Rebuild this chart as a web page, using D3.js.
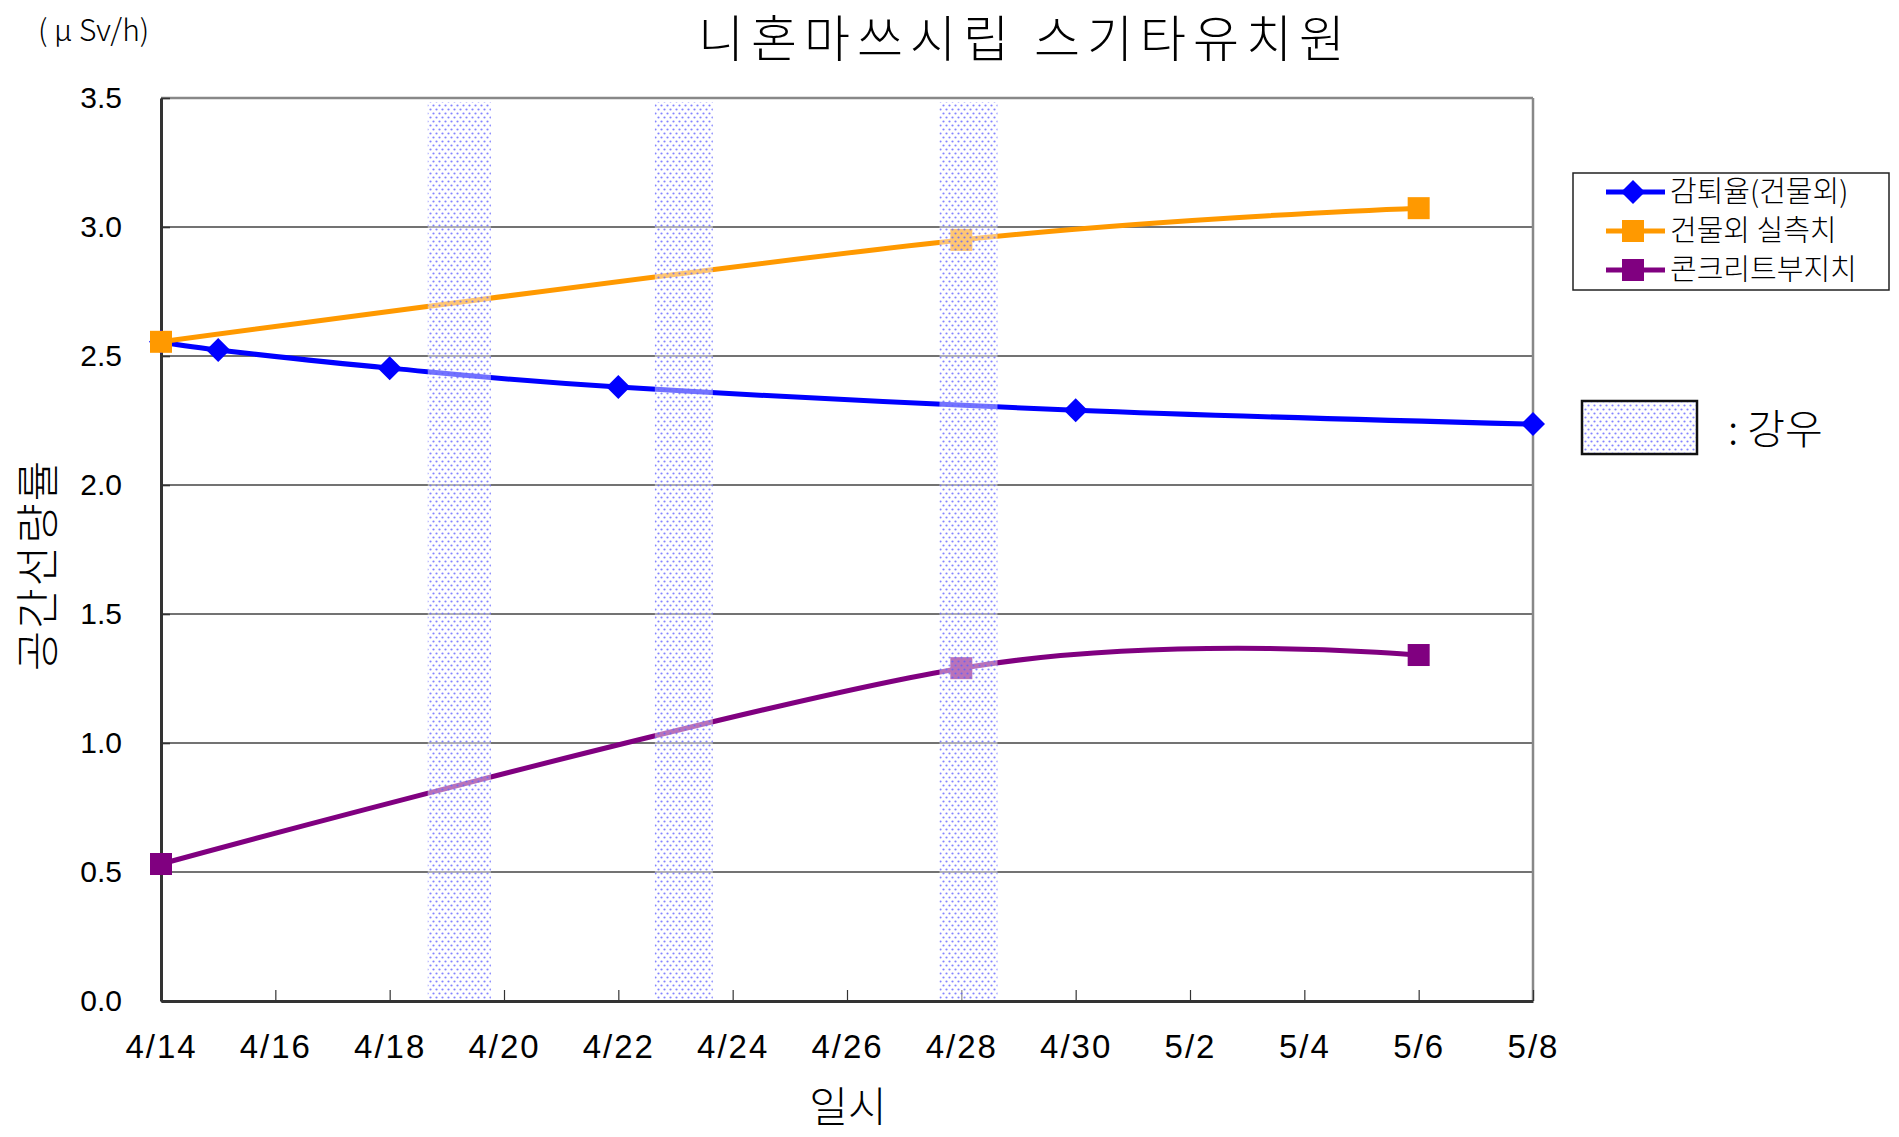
<!DOCTYPE html>
<html>
<head>
<meta charset="utf-8">
<title>니혼마쓰시립 스기타유치원</title>
<script src="https://d3js.org/d3.v7.min.js"></script>
<style>
  body { margin: 0; background: #fff; }
  .kr { font-family: 'Noto Sans CJK KR', sans-serif; font-weight: 300; }
</style>
</head>
<body>
<svg id="chart" width="1899" height="1137"></svg>
<script>
// data
var seriesNames = ["감퇴율(건물외)", "건물외 실측치", "콘크리트부지치"];
var seriesColors = ["#0000ff", "#ff9900", "#800080"];

var decayDates = ["2011-04-14", "2011-04-15", "2011-04-18", "2011-04-22", "2011-04-30", "2011-05-08"];
var decayValues = [2.555, 2.523, 2.453, 2.38, 2.29, 2.236];

var outsideDates = ["2011-04-14", "2011-04-28", "2011-05-06"];
var outsideValues = [2.555, 2.95, 3.073];

var concreteDates = ["2011-04-14", "2011-04-28", "2011-05-06"];
var concreteValues = [0.531, 1.29, 1.341];

// rain periods
var rainStart = ["2011-04-18 16:00", "2011-04-22 15:20", "2011-04-27 14:50"];
var rainEnd = ["2011-04-19 18:30", "2011-04-23 15:40", "2011-04-28 15:10"];

var yTicks = [0, 0.5, 1.0, 1.5, 2.0, 2.5, 3.0, 3.5];

var svg = d3.select("#chart");
var plotL = 161, plotR = 1533, plotT = 98, plotB = 1001;

var parseDay = d3.timeParse("%Y-%m-%d");
var parseTime = d3.timeParse("%Y-%m-%d %H:%M");
var t0 = parseDay("2011-04-14"), t1 = parseDay("2011-05-08");

var x = d3.scaleTime().domain([t0, t1]).range([plotL, plotR]);
var y = d3.scaleLinear().domain([0, 3.5]).range([plotB, plotT]);

// pattern for rain bands
var defs = svg.append("defs");
var pat = defs.append("pattern")
  .attr("id", "rain")
  .attr("patternUnits", "userSpaceOnUse")
  .attr("width", 6).attr("height", 8);
pat.append("circle").attr("cx", 1.5).attr("cy", 1.5).attr("r", 1.1).attr("fill", "#5a5aff").attr("fill-opacity", 0.75);
pat.append("circle").attr("cx", 4.5).attr("cy", 5.5).attr("r", 1.1).attr("fill", "#5a5aff").attr("fill-opacity", 0.75);

// gridlines
svg.append("g").selectAll("line")
  .data(yTicks.filter(d => d > 0 && d < 3.5))
  .enter().append("line")
  .attr("x1", plotL).attr("x2", plotR)
  .attr("y1", d => y(d)).attr("y2", d => y(d))
  .attr("stroke", "#444").attr("stroke-width", 1.6);

// frame: top & right grey
svg.append("line").attr("x1", plotL).attr("x2", plotR).attr("y1", plotT).attr("y2", plotT)
  .attr("stroke", "#888").attr("stroke-width", 2.5);
svg.append("line").attr("x1", plotR).attr("x2", plotR).attr("y1", plotT).attr("y2", plotB)
  .attr("stroke", "#888").attr("stroke-width", 2.5);

// axes
var xTickVals = d3.timeDay.range(t0, d3.timeDay.offset(t1, 1), 2);
var xAxis = d3.axisBottom(x)
  .tickValues(xTickVals)
  .tickFormat(d3.timeFormat("%-m/%-d"))
  .tickSizeInner(-11).tickSizeOuter(0).tickPadding(34);
var gx = svg.append("g").attr("transform", "translate(0," + plotB + ")").call(xAxis);
gx.select(".domain").attr("stroke", "#333").attr("stroke-width", 3);
gx.selectAll(".tick line").attr("stroke", "#333").attr("stroke-width", 1.2);
gx.selectAll(".tick text").attr("font-size", 33).attr("fill", "#000")
  .attr("letter-spacing", 2)
  .attr("font-family", "'Liberation Sans', Arial, sans-serif");

var yAxis = d3.axisLeft(y)
  .tickValues(yTicks)
  .tickFormat(d3.format(".1f"))
  .tickSizeInner(-9).tickSizeOuter(0).tickPadding(39);
var gy = svg.append("g").attr("transform", "translate(" + plotL + ",0)").call(yAxis);
gy.select(".domain").attr("stroke", "#333").attr("stroke-width", 3);
gy.selectAll(".tick line").attr("stroke", "#333").attr("stroke-width", 1.6);
gy.selectAll(".tick text").attr("font-size", 30).attr("fill", "#000")
  .attr("font-family", "'Liberation Sans', Arial, sans-serif");

// series
var line = d3.line()
  .x(d => x(parseDay(d[0])))
  .y(d => y(d[1]))
  .curve(d3.curveCardinal.tension(0));

var series = [
  { dates: decayDates, values: decayValues, color: seriesColors[0], marker: "diamond" },
  { dates: outsideDates, values: outsideValues, color: seriesColors[1], marker: "square" },
  { dates: concreteDates, values: concreteValues, color: seriesColors[2], marker: "square" }
];

function drawMarker(g, kind, cx, cy, color) {
  if (kind === "diamond") {
    g.append("path")
      .attr("d", "M" + cx + "," + (cy - 12) + "L" + (cx + 12) + "," + cy + "L" + cx + "," + (cy + 12) + "L" + (cx - 12) + "," + cy + "Z")
      .attr("fill", color);
  } else {
    g.append("rect").attr("x", cx - 11).attr("y", cy - 11).attr("width", 22).attr("height", 22).attr("fill", color);
  }
}

series.forEach(function (s) {
  var pts = s.dates.map((d, i) => [d, s.values[i]]);
  svg.append("path").datum(pts)
    .attr("d", line)
    .attr("fill", "none")
    .attr("stroke", s.color)
    .attr("stroke-width", 5);
  var mg = svg.append("g");
  pts.forEach(p => drawMarker(mg, s.marker, x(parseDay(p[0])), y(p[1]), s.color));
});

// rain bands (drawn on top, semi-transparent)
var bands = svg.append("g").selectAll("g")
  .data(rainStart.map((d, i) => [parseTime(d), parseTime(rainEnd[i])]))
  .enter().append("g");
bands.append("rect")
  .attr("x", d => x(d[0])).attr("width", d => x(d[1]) - x(d[0]))
  .attr("y", plotT + 4).attr("height", plotB - plotT - 5)
  .attr("fill", "#fff").attr("fill-opacity", 0.45);
bands.append("rect")
  .attr("x", d => x(d[0])).attr("width", d => x(d[1]) - x(d[0]))
  .attr("y", plotT + 4).attr("height", plotB - plotT - 5)
  .attr("fill", "url(#rain)");

// titles
svg.append("text").attr("class", "kr")
  .attr("x", 1025).attr("y", 57).attr("text-anchor", "middle")
  .attr("font-size", 50).attr("letter-spacing", 7)
  .text("니혼마쓰시립 스기타유치원");

svg.append("text").attr("class", "kr")
  .attr("x", 38).attr("y", 41).attr("font-size", 30).text("( μ Sv/h)");

svg.append("text").attr("class", "kr")
  .attr("transform", "translate(54,565) rotate(-90)")
  .attr("text-anchor", "middle").attr("font-size", 44)
  .attr("letter-spacing", 2).text("공간선량률");

svg.append("text").attr("class", "kr")
  .attr("x", 848).attr("y", 1122).attr("text-anchor", "middle")
  .attr("font-size", 42).text("일시");

// legend
var lg = svg.append("g");
lg.append("rect").attr("x", 1573).attr("y", 173).attr("width", 316).attr("height", 117)
  .attr("fill", "#fff").attr("stroke", "#222").attr("stroke-width", 1.5);
var legendY = [192, 231, 270];
series.forEach(function (s, i) {
  lg.append("line").attr("x1", 1606).attr("x2", 1665)
    .attr("y1", legendY[i]).attr("y2", legendY[i])
    .attr("stroke", s.color).attr("stroke-width", 5);
  drawMarker(lg, s.marker, 1633, legendY[i], s.color);
  lg.append("text").attr("class", "kr")
    .attr("x", 1670).attr("y", legendY[i] + 10)
    .attr("font-size", 29).text(seriesNames[i]);
});

// rain legend
lg.append("rect").attr("x", 1582).attr("y", 401).attr("width", 115).attr("height", 53)
  .attr("fill", "#fff").attr("stroke", "#111").attr("stroke-width", 2.5);
lg.append("rect").attr("x", 1583).attr("y", 402).attr("width", 113).attr("height", 51)
  .attr("fill", "url(#rain)");
lg.append("text").attr("class", "kr")
  .attr("x", 1728).attr("y", 444).attr("font-size", 41).text(":  강우");
</script>
</body>
</html>
